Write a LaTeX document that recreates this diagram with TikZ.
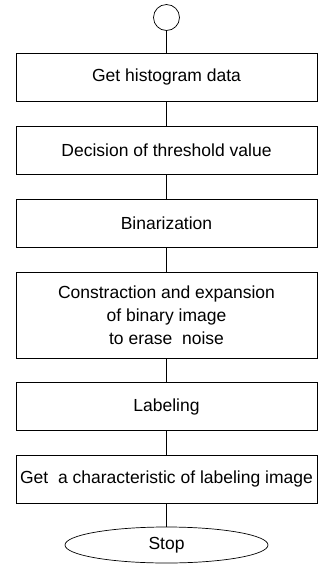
\documentclass[tikz,border=0pt]{standalone}
\usepackage{fontspec}
\setmainfont{Liberation Sans}
\usepackage{tikz}
\usetikzlibrary{positioning,shapes.geometric}

\tikzset{
  procbox/.style={draw,line width=0.7pt,minimum width=301pt,minimum height=48pt,inner sep=0pt,align=center,font=\fontsize{17.5}{23}\selectfont},
  termnode/.style={draw,line width=0.7pt,ellipse,minimum width=203pt,minimum height=36pt,inner sep=0pt,font=\fontsize{17.5}{23}\selectfont}
}

\begin{document}
\begin{tikzpicture}[x=1pt,y=-1pt,line width=0.7pt]
\useasboundingbox (0,0) rectangle (327,566);
\node[draw,circle,minimum size=26pt,inner sep=0pt] (start) at (166.5,17.5) {};
\node[procbox] (hist) at (166.5,77) {Get histogram data};
\node[procbox] (thresh) at (166.5,150) {Decision of threshold value};
\node[procbox] (binar) at (166.5,223) {Binarization};
\node[procbox,minimum height=86pt] (noise) at (166.5,315) {Constraction and expansion\\of binary image\\to erase\ \ noise};
\node[procbox] (label) at (166.5,406.5) {Labeling};
\node[procbox] (charac) at (166.5,479) {Get\ \ a characteristic of labeling image};
\node[termnode] (stop) at (166.5,545) {Stop};
\draw (start) -- (hist);
\draw (hist) -- (thresh);
\draw (thresh) -- (binar);
\draw (binar) -- (noise);
\draw (noise) -- (label);
\draw (label) -- (charac);
\draw (charac) -- (stop);
\end{tikzpicture}
\end{document}
